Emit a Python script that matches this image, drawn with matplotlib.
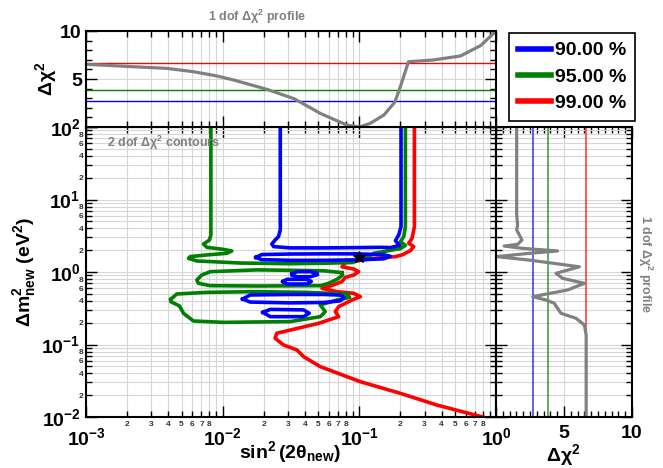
import numpy as np
import matplotlib
matplotlib.use('Agg')
import matplotlib.pyplot as plt
from matplotlib.ticker import FixedLocator, FuncFormatter, NullFormatter, MultipleLocator
from matplotlib.lines import Line2D

plt.rcParams['font.family'] = ['Liberation Sans', 'DejaVu Sans']
plt.rcParams['font.weight'] = 'bold'
plt.rcParams['mathtext.fontset'] = 'custom'
plt.rcParams['mathtext.rm'] = 'Liberation Sans:bold'
plt.rcParams['mathtext.it'] = 'Liberation Sans:bold'
plt.rcParams['mathtext.bf'] = 'Liberation Sans:bold'
plt.rcParams['mathtext.default'] = 'bf'

GRAY = '#808080'
GRID = '#d6d6d6'

# confidence levels
cl_labels = ['90.00 %', '95.00 %', '99.00 %']
cl_colors = ['#0000ff', '#008000', '#ff0000']
cl_chi2 = [2.71, 3.84, 6.63]

# best fit point
best_s = 0.1
best_m = 1.62

# 1 dof profile vs sin^2(2theta)
prof_s = [0.001, 0.00222, 0.00389, 0.00611, 0.00912, 0.012, 0.0211, 0.0333, 0.0414,
          0.0518, 0.0649, 0.0813, 0.1, 0.1202, 0.1514, 0.182, 0.1995, 0.229, 0.347,
          0.55, 0.776, 1.0]
prof_s_chi2 = [6.53, 6.28, 6.11, 5.76, 5.31, 4.9, 3.92, 2.95, 2.2,
               1.42, 0.8, 0.2, 0.0, 0.38, 1.25, 2.6, 4.2, 6.8, 6.98,
               7.4, 8.5, 10.0]

# 1 dof profile vs dm^2
prof_m = [100, 6.1, 4.45, 3.8, 3.24, 2.76, 2.41, 2.28, 2.12, 1.95, 1.81, 1.63, 1.46,
          1.18, 0.958, 0.818, 0.698, 0.565, 0.457, 0.411, 0.37, 0.315, 0.269, 0.23,
          0.186, 0.135, 0.01]
prof_m_chi2 = [1.52, 1.52, 1.59, 1.52, 1.72, 1.91, 1.6, 0.6, 1.96, 4.53, 2.45, 0.05, 2.45,
               6.13, 4.41, 4.9, 6.5, 5.27, 2.70, 3.68, 4.29, 4.53, 4.78, 5.88,
               6.5, 6.63, 6.63]

# 99% contour
red_s = [0.2529, 0.2529, 0.2431, 0.2298, 0.25, 0.2363, 0.2054, 0.1835, 0.1238, 0.0789,
         0.0746, 0.0909, 0.0989, 0.0909, 0.0789, 0.0746, 0.0596, 0.0533, 0.0686, 0.0909,
         0.1017, 0.0884, 0.0706, 0.0667, 0.0706, 0.0504, 0.0312, 0.0249, 0.0242, 0.0279,
         0.035, 0.0391, 0.0518, 0.1017, 0.1997, 0.3707, 0.80]
red_m = [100, 4.22, 2.91, 2.49, 2.24, 1.97, 1.72, 1.63, 1.53, 1.35,
         1.18, 1.10, 1.01, 0.909, 0.84, 0.736, 0.628, 0.595, 0.536, 0.508,
         0.457, 0.411, 0.333, 0.284, 0.242, 0.196, 0.158, 0.143, 0.122, 0.0984,
         0.084, 0.068, 0.0495, 0.0307, 0.0212, 0.0146, 0.01]

# 95% contour pieces
green_s = [0.0082, 0.0082, 0.0080, 0.00724, 0.00766, 0.01014, 0.01167, 0.01073, 0.00766,
           0.00578, 0.00562, 0.00647, 0.01343, 0.0312, 0.0548, 0.0884, 0.1107, 0.1274,
           0.164, 0.1997, 0.2173, 0.1997, 0.2112, 0.2173, 0.2173]
green_m = [100, 3.24, 2.76, 2.43, 2.19, 2.05, 1.95, 1.81, 1.72,
           1.63, 1.54, 1.42, 1.33, 1.30, 1.32, 1.35, 1.54, 1.81,
           1.97, 2.10, 2.33, 2.62, 3.07, 4.22, 100]
green_lobe1_s = [0.0746, 0.0548, 0.0178, 0.0081, 0.00704, 0.00647, 0.00665, 0.0081,
                 0.0178, 0.0518, 0.0596, 0.0686, 0.0755, 0.0746]
green_lobe1_m = [0.979, 1.04, 1.07, 1.01, 0.909, 0.776, 0.698, 0.648,
                 0.641, 0.648, 0.698, 0.792, 0.909, 0.979]
green_lobe2_s = [0.00417, 0.00461, 0.00766, 0.0178, 0.0414, 0.0812, 0.0849, 0.0686, 0.0518,
                 0.0563, 0.0518, 0.0312, 0.01014, 0.00611, 0.00517, 0.00483, 0.00417, 0.00417]
green_lobe2_m = [0.420, 0.497, 0.524, 0.536, 0.524, 0.497, 0.447, 0.411, 0.351,
                 0.284, 0.242, 0.207, 0.202, 0.211, 0.269, 0.340, 0.39, 0.420]

# 90% contour pieces
blue_s = [0.0264, 0.0264, 0.0256, 0.0242, 0.0229, 0.0236, 0.0312, 0.0548, 0.0961, 0.1425,
          0.1687, 0.1975, 0.1835, 0.1942, 0.2019, 0.2019]
blue_m = [100, 3.80, 3.07, 2.76, 2.43, 2.24, 2.15, 2.15, 2.17, 2.19,
          2.17, 2.33, 2.70, 3.24, 4.22, 100]
blue_lobe1_s = [0.0175, 0.0193, 0.0312, 0.0548, 0.0961, 0.1508, 0.1687, 0.1508, 0.0961,
                0.0548, 0.0312, 0.0193, 0.0175]
blue_lobe1_m = [1.59, 1.74, 1.77, 1.78, 1.78, 1.73, 1.65, 1.52, 1.47,
                1.45, 1.45, 1.48, 1.59]
blue_blob1_s = [0.0321, 0.035, 0.0438, 0.049, 0.0495, 0.0438, 0.035, 0.0321, 0.0321]
blue_blob1_m = [0.94, 1.01, 1.01, 0.96, 0.92, 0.86, 0.86, 0.90, 0.94]
blue_blob2_s = [0.0276, 0.0295, 0.0414, 0.0445, 0.0414, 0.0295, 0.0276]
blue_blob2_m = [0.736, 0.792, 0.792, 0.74, 0.683, 0.683, 0.736]
blue_lobe2_s = [0.014, 0.0159, 0.0312, 0.0548, 0.0726, 0.0775, 0.0726, 0.0548, 0.0312,
                0.0159, 0.014]
blue_lobe2_m = [0.424, 0.482, 0.49, 0.49, 0.48, 0.447, 0.40, 0.38, 0.375, 0.385, 0.424]
blue_lobe3_s = [0.0197, 0.0223, 0.0391, 0.043, 0.0391, 0.0223, 0.0197]
blue_lobe3_m = [0.278, 0.305, 0.30, 0.27, 0.242, 0.242, 0.278]


def set_log_ticks(axis, lo, hi, label_minor=None):
    axis.set_major_locator(FixedLocator([10.0 ** k for k in range(lo, hi + 1)]))
    axis.set_minor_locator(FixedLocator([m * 10.0 ** k for k in range(lo, hi) for m in range(2, 10)]))
    if label_minor is None:
        axis.set_major_formatter(NullFormatter())
        axis.set_minor_formatter(NullFormatter())
        return
    axis.set_major_formatter(FuncFormatter(lambda v, p: r'$10^{%d}$' % round(np.log10(v))))

    def minor_fmt(v, p):
        m = int(round(v / 10.0 ** np.floor(np.log10(v) + 1e-9)))
        return str(m) if m in label_minor else ''
    axis.set_minor_formatter(FuncFormatter(minor_fmt))


fig = plt.figure(figsize=(6.63, 4.68), dpi=100)
ax = fig.add_axes([86 / 663, 51 / 468, 410 / 663, 290 / 468])
axt = fig.add_axes([86 / 663, 341 / 468, 410 / 663, 96 / 468])
axr = fig.add_axes([496 / 663, 51 / 468, 136 / 663, 290 / 468])

for a in (ax, axt, axr):
    for sp in a.spines.values():
        sp.set_linewidth(1.5)
    a.tick_params(which='both', direction='in', top=True, right=True, width=1.0)
    a.tick_params(which='major', length=8)
    a.tick_params(which='minor', length=4.5)
    a.set_axisbelow(True)

# ---- main panel: 2 dof contours
ax.set_xscale('log')
ax.set_yscale('log')
ax.set_xlim(1e-3, 1)
ax.set_ylim(1e-2, 1e2)
set_log_ticks(ax.xaxis, -3, 0, [2, 3, 4, 5, 6, 7, 8])
set_log_ticks(ax.yaxis, -2, 2, [2, 4, 6, 8])
ax.tick_params(which='major', labelsize=14)
ax.tick_params(which='minor', labelsize=6, labelcolor='#333333')
ax.tick_params(axis='x', which='minor', pad=3)
ax.tick_params(axis='x', which='major', pad=7)
ax.tick_params(axis='y', which='major', pad=4)
ax.tick_params(axis='y', which='minor', pad=2)
ax.grid(True, which='both', color=GRID, lw=0.8)

lw_c = 2.6
ax.plot(red_s, red_m, color=cl_colors[2], lw=lw_c)
for xs, ys in [(green_s, green_m), (green_lobe1_s, green_lobe1_m), (green_lobe2_s, green_lobe2_m)]:
    ax.plot(xs, ys, color=cl_colors[1], lw=lw_c)
for xs, ys in [(blue_s, blue_m), (blue_lobe1_s, blue_lobe1_m), (blue_blob1_s, blue_blob1_m),
               (blue_blob2_s, blue_blob2_m), (blue_lobe2_s, blue_lobe2_m),
               (blue_lobe3_s, blue_lobe3_m)]:
    ax.plot(xs, ys, color=cl_colors[0], lw=lw_c)
ax.plot([best_s], [best_m], marker='*', color='black', ms=9, ls='none', zorder=10)

# ---- top panel: profile in sin^2(2theta)
axt.set_xscale('log')
axt.set_xlim(1e-3, 1)
axt.set_ylim(0, 10)
set_log_ticks(axt.xaxis, -3, 0)
axt.yaxis.set_major_locator(MultipleLocator(5))
axt.yaxis.set_minor_locator(MultipleLocator(1))
axt.yaxis.set_major_formatter(FuncFormatter(lambda v, p: '' if v == 0 else '%d' % v))
axt.tick_params(axis='y', labelsize=14, pad=3)
axt.grid(True, which='both', axis='x', color=GRID, lw=0.8)
axt.grid(True, which='major', axis='y', color=GRID, lw=0.8)
for v, c in zip(cl_chi2, cl_colors):
    axt.axhline(v, color=c, lw=1)
axt.plot(prof_s, prof_s_chi2, color=GRAY, lw=2.3)

# ---- right panel: profile in dm^2
axr.set_yscale('log')
axr.set_ylim(1e-2, 1e2)
axr.set_xlim(0, 10)
set_log_ticks(axr.yaxis, -2, 2)
axr.xaxis.set_major_locator(MultipleLocator(5))
axr.xaxis.set_minor_locator(MultipleLocator(0.5))
axr.xaxis.set_major_formatter(FuncFormatter(lambda v, p: '' if v == 0 else '%d' % v))
axr.tick_params(axis='x', labelsize=14, pad=6)
axr.grid(True, which='both', axis='y', color=GRID, lw=0.8)
axr.grid(True, which='major', axis='x', color=GRID, lw=0.8)
for v, c in zip(cl_chi2, cl_colors):
    axr.axvline(v, color=c, lw=1.1, alpha=0.8)
axr.plot(prof_m_chi2, prof_m, color=GRAY, lw=2.3)

# ---- texts
fig.text(257 / 663, 1 - 17 / 468, r'1 dof $\Delta\chi^2$ profile', color=GRAY,
         fontsize=9, ha='center', va='center')
fig.text(107 / 663, 1 - 143 / 468, r'2 dof $\Delta\chi^2$ contours', color=GRAY,
         fontsize=9, ha='left', va='center')
fig.text(645 / 663, 1 - 264 / 468, r'1 dof $\Delta\chi^2$ profile', color=GRAY,
         fontsize=9, ha='center', va='center', rotation=-90)
fig.text(290 / 663, 1 - 452 / 468, r'$\sin^2(2\theta_{new})$', fontsize=14,
         ha='center', va='center')
fig.text(25 / 663, 1 - 272 / 468, r'$\Delta m^2_{new}$ (eV$^2$)', fontsize=14,
         ha='center', va='center', rotation=90)
fig.text(46 / 663, 1 - 79 / 468, r'$\Delta\chi^2$', fontsize=14,
         ha='center', va='center', rotation=90)
fig.text(563 / 663, 1 - 455 / 468, r'$\Delta\chi^2$', fontsize=14,
         ha='center', va='center')

handles = [Line2D([], [], color=c, lw=4) for c in cl_colors]
leg = fig.legend(handles, cl_labels, loc='upper left', bbox_to_anchor=(509 / 663, 1 - 33 / 468),
                 bbox_transform=fig.transFigure, fontsize=14, frameon=True, fancybox=False,
                 edgecolor='black', framealpha=1, handlelength=1.7, handletextpad=0.2,
                 borderpad=0.45, labelspacing=0.45, borderaxespad=0)
leg.get_frame().set_linewidth(1.2)

fig.savefig('out.png', dpi=100)
